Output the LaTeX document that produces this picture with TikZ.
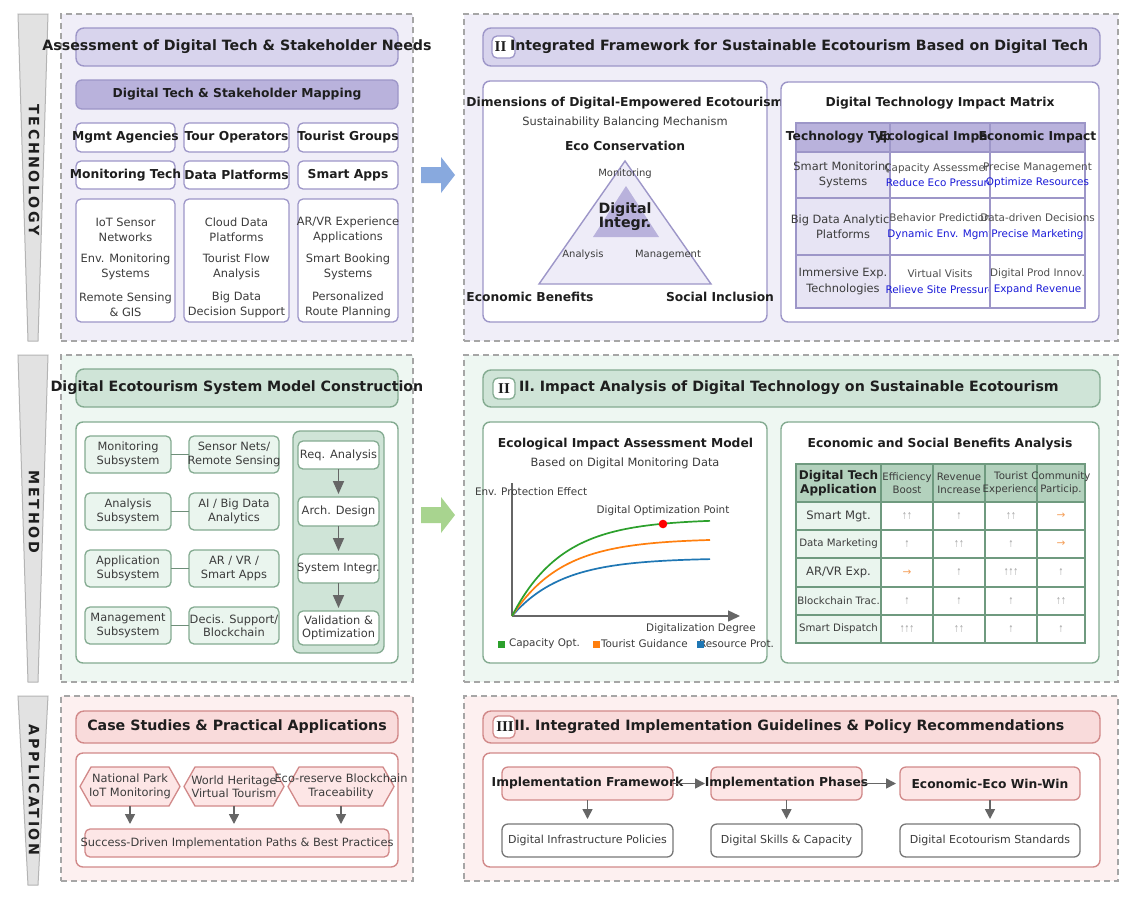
\documentclass[tikz,border=0pt]{standalone}
\usepackage{fontspec}
\usepackage{graphicx}
\setmainfont{DejaVu Sans}
\newfontfamily\serifb{Liberation Serif}
\newfontfamily\barfont[LetterSpace=18]{DejaVu Sans}
\usetikzlibrary{arrows.meta}

\definecolor{tdark}{HTML}{1E1E1E}
\definecolor{tgray}{HTML}{3C3C3C}
\definecolor{tlight}{HTML}{505050}
\definecolor{dashc}{HTML}{A6A6A6}
\definecolor{barfill}{HTML}{E2E2E2}
\definecolor{barline}{HTML}{B4B4B4}
\definecolor{lavbg}{HTML}{F0EEF8}
\definecolor{lavttl}{HTML}{D8D4ED}
\definecolor{lavdark}{HTML}{B9B2DC}
\definecolor{lavline}{HTML}{9D96C8}
\definecolor{lavlite}{HTML}{E7E4F4}
\definecolor{lavtri}{HTML}{EEECF8}
\definecolor{grnbg}{HTML}{EEF7F2}
\definecolor{grnttl}{HTML}{CFE4D7}
\definecolor{grnline}{HTML}{84AB91}
\definecolor{grnbox}{HTML}{EAF5EE}
\definecolor{grnhead}{HTML}{B3D1BD}
\definecolor{grntab}{HTML}{6F9A7F}
\definecolor{grnconn}{HTML}{6F8F7A}
\definecolor{pnkbg}{HTML}{FDF0F0}
\definecolor{pnkttl}{HTML}{F9DBDB}
\definecolor{pnkline}{HTML}{D18989}
\definecolor{pnkbox}{HTML}{FDE6E6}
\definecolor{arrgray}{HTML}{666666}
\definecolor{bluearr}{HTML}{88A9DE}
\definecolor{grnarr}{HTML}{A8D48F}
\definecolor{cgreen}{HTML}{2CA02C}
\definecolor{corange}{HTML}{FF7F0E}
\definecolor{cblue}{HTML}{1F77B4}
\definecolor{linkblue}{HTML}{1A1AD8}
\definecolor{uparr}{HTML}{ABABAB}
\definecolor{rtarr}{HTML}{F5A05A}
\definecolor{lowline}{HTML}{777777}

\newcommand\fTitle{\fontsize{14.2}{17}\selectfont\bfseries}
\newcommand\fSub{\fontsize{12.3}{14.5}\selectfont\bfseries}
\newcommand\fBody{\fontsize{11.4}{15.2}\selectfont}
\newcommand\fBodyT{\fontsize{11.4}{13.4}\selectfont}
\newcommand\fSmall{\fontsize{10.4}{15.6}\selectfont}
\newcommand\fSmallT{\fontsize{10.2}{13}\selectfont}
\newcommand\fTiny{\fontsize{10}{12}\selectfont}

\newcommand\rb[6]{\node[#1, anchor=north west, minimum width={#5-#3}, minimum height={#6-#4}] (#2) at (#3,#4) {};}
\newcommand\cell[8]{\node[#1, anchor=north west, minimum width={#5-#3}, minimum height={#6-#4}] (#2) at (#3,#4) {};\node[#7] (#2t) at (#2.center) {#8};}
\newcommand\upA{\scalebox{0.6}[1]{↑}}
\newcommand\upB{\scalebox{0.6}[1]{↑↑}}
\newcommand\upC{\scalebox{0.6}[1]{↑↑↑}}

\tikzset{
  every node/.style={inner sep=0pt, outer sep=0pt},
  panel/.style={draw=dashc, line width=1.3pt, dash pattern=on 6pt off 4pt},
  ttlbox/.style={rounded corners=8pt, line width=1.4pt},
  ibox/.style={rounded corners=7pt, line width=1.4pt, fill=white},
  sbox/.style={rounded corners=5pt, line width=1.3pt},
  ttl/.style={font=\fTitle, text=tdark},
  sub/.style={font=\fSub, text=tdark, align=center},
  body/.style={font=\fBody, text=tgray, align=center},
  bodyt/.style={font=\fBodyT, text=tgray, align=center},
  smallt/.style={font=\fSmallT, text=tgray, align=center},
  tiny/.style={font=\fTiny, text=tgray},
  badge/.style={font=\serifb\fontsize{15}{16}\selectfont\bfseries, text=tdark},
  bartxt/.style={font=\barfont\fontsize{14.2}{16}\selectfont\bfseries, text=tdark, rotate=-90},
  sidebar/.style={fill=barfill, draw=barline, line width=1pt},
  arr/.style={draw=arrgray, line width=1.6pt, -{Triangle[length=10pt,width=10pt]}},
  conn/.style={draw=grnconn, line width=1.5pt},
  mhead/.style={fill=lavdark, draw=lavline, line width=1.4pt},
  mfirst/.style={fill=lavlite, draw=lavline, line width=1.4pt},
  mwhite/.style={fill=white, draw=lavline, line width=1.4pt},
  mbody/.style={font=\fontsize{11.4}{15.5}\selectfont, text=tgray, align=center},
  msm/.style={font=\fontsize{10.4}{15.5}\selectfont, text=tlight, align=center},
  bhead/.style={fill=grnhead, draw=grntab, line width=1.6pt},
  bfirst/.style={fill=grnbox, draw=grntab, line width=1.6pt},
  bwhite/.style={fill=white, draw=grntab, line width=1.6pt},
  bhtxt/.style={font=\fontsize{12}{13.5}\selectfont\bfseries, text=tdark, align=center},
  ucell/.style={font=\fontsize{9.5}{10}\selectfont, text=uparr},
  rcell/.style={font=\fontsize{10.5}{11}\selectfont, text=rtarr},
  rowbig/.style={font=\fontsize{11.6}{13}\selectfont, text=tgray},
  rowsm/.style={font=\fontsize{10.2}{13}\selectfont, text=tgray},
  curve/.style={line width=1.7pt},
  axis/.style={draw=arrgray, line width=1.5pt},
  legend/.style={font=\fontsize{10.4}{12}\selectfont, text=tgray, anchor=west},
}

\begin{document}
\begin{tikzpicture}[x=1pt, y=-1pt]
\fill[white] (0,0) rectangle (1137,900);
\useasboundingbox (0,0) rectangle (1137,900);

% ---------------- side bars ----------------
\draw[sidebar] (18,14) -- (48,14) -- (38,341) -- (28,341) -- cycle;
\node[bartxt] (barT) at (34,170) {TECHNOLOGY};
\draw[sidebar] (18,355) -- (48,355) -- (38,682) -- (28,682) -- cycle;
\node[bartxt] (barM) at (34,512) {METHOD};
\draw[sidebar] (18,696) -- (48,696) -- (38,885) -- (28,885) -- cycle;
\node[bartxt] (barA) at (34,790) {APPLICATION};

% ---------------- panels ----------------
\rb{panel, fill=lavbg}{P1}{61}{14}{413}{341}
\rb{panel, fill=lavbg}{P2}{464}{14}{1118}{341}
\rb{panel, fill=grnbg}{P3}{61}{355}{413}{682}
\rb{panel, fill=grnbg}{P4}{464}{355}{1118}{682}
\rb{panel, fill=pnkbg}{P5}{61}{696}{413}{881}
\rb{panel, fill=pnkbg}{P6}{464}{696}{1118}{881}

% side arrows
\fill[bluearr] (421,167) -- (441,167) -- (441,157) -- (455,175) -- (441,193) -- (441,183) -- (421,183) -- cycle;
\fill[grnarr] (421,507) -- (441,507) -- (441,497) -- (455,515) -- (441,533) -- (441,523) -- (421,523) -- cycle;

% ================= TOP LEFT =================
\rb{ttlbox, fill=lavttl, draw=lavline}{T1}{76}{28}{398}{66}
\node[ttl] (T1t) at (T1.center) {Assessment of Digital Tech \& Stakeholder Needs};
\rb{sbox, rounded corners=6pt, fill=lavdark, draw=lavline}{M1}{76}{80}{398}{109}
\node[sub] (M1t) at (M1.center) {Digital Tech \& Stakeholder Mapping};
\rb{sbox, fill=white, draw=lavline}{A1}{76}{123}{175}{152}
\rb{sbox, fill=white, draw=lavline}{A2}{184}{123}{289}{152}
\rb{sbox, fill=white, draw=lavline}{A3}{298}{123}{398}{152}
\node[sub] (A1t) at (A1.center) {Mgmt Agencies};
\node[sub] (A2t) at (A2.center) {Tour Operators};
\node[sub] (A3t) at (A3.center) {Tourist Groups};
\rb{sbox, fill=white, draw=lavline}{B1}{76}{161}{175}{189}
\rb{sbox, fill=white, draw=lavline}{B2}{184}{161}{289}{189}
\rb{sbox, fill=white, draw=lavline}{B3}{298}{161}{398}{189}
\node[sub] (B1t) at (B1.center) {Monitoring Tech};
\node[sub] (B2t) at (B2.center) {Data Platforms};
\node[sub] (B3t) at (B3.center) {Smart Apps};
\rb{sbox, fill=white, draw=lavline}{C1}{76}{199}{175}{322}
\rb{sbox, fill=white, draw=lavline}{C2}{184}{199}{289}{322}
\rb{sbox, fill=white, draw=lavline}{C3}{298}{199}{398}{322}
\node[body] (C1a) at (125.5,229.5) {IoT Sensor\\Networks};
\node[body] (C1b) at (125.5,267) {Env. Monitoring\\Systems};
\node[body] (C1c) at (125.5,305) {Remote Sensing\\\& GIS};
\node[body] (C2a) at (236.5,229.5) {Cloud Data\\Platforms};
\node[body] (C2b) at (236.5,267) {Tourist Flow\\Analysis};
\node[body] (C2c) at (236.5,305) {Big Data\\Decision Support};
\node[body] (C3a) at (348,229.5) {AR/VR Experience\\Applications};
\node[body] (C3b) at (348,267) {Smart Booking\\Systems};
\node[body] (C3c) at (348,305) {Personalized\\Route Planning};

% ================= TOP RIGHT =================
\rb{ttlbox, fill=lavttl, draw=lavline}{T2}{483}{28}{1100}{66}
\rb{sbox, fill=white, draw=lavline}{G2}{492}{36}{515}{58}
\node[badge] (G2t) at (500.5,47) {II};
\node[ttl, anchor=west] (T2t) at (510,47) {Integrated Framework for Sustainable Ecotourism Based on Digital Tech};

\rb{ibox, draw=lavline}{D1}{483}{81}{767}{322}
\node[sub] (D1a) at (625,103) {Dimensions of Digital-Empowered Ecotourism};
\node[body] (D1b) at (625,122) {Sustainability Balancing Mechanism};
\node[sub] (D1c) at (625,146) {Eco Conservation};
\draw[fill=lavtri, draw=lavline, line width=1.4pt] (625,161) -- (711,284) -- (539,284) -- cycle;
\fill[lavdark] (626,186) -- (659,237) -- (593,237) -- cycle;
\node[tiny] (D1m) at (625,174) {Monitoring};
\node[font=\fontsize{14.2}{14}\selectfont\bfseries, text=tdark, align=center] (D1i) at (625,217) {Digital\\Integr.};
\node[tiny] (D1an) at (583,255) {Analysis};
\node[tiny] (D1mg) at (668,255) {Management};
\node[sub] (D1e) at (530,297) {Economic Benefits};
\node[sub] (D1s) at (720,297) {Social Inclusion};

\rb{ibox, draw=lavline}{D2}{781}{82}{1099}{322}
\node[sub] (D2a) at (940,103) {Digital Technology Impact Matrix};
\cell{mhead}{MH1}{796}{123}{890}{152}{sub}{Technology Type}
\cell{mhead}{MH2}{890}{123}{990}{152}{sub}{Ecological Impact}
\cell{mhead}{MH3}{990}{123}{1085}{152}{sub}{Economic Impact}
\cell{mfirst}{MA1}{796}{152}{890}{198}{mbody}{Smart Monitoring\\Systems}
\cell{mwhite}{MA2}{890}{152}{990}{198}{msm}{Capacity Assessment\\\textcolor{linkblue}{Reduce Eco Pressure}}
\cell{mwhite}{MA3}{990}{152}{1085}{198}{msm}{Precise Management\\\textcolor{linkblue}{Optimize Resources}}
\cell{mfirst}{MB1}{796}{198}{890}{255}{mbody}{Big Data Analytics\\Platforms}
\cell{mwhite}{MB2}{890}{198}{990}{255}{msm}{Behavior Prediction\\\textcolor{linkblue}{Dynamic Env. Mgmt}}
\cell{mwhite}{MB3}{990}{198}{1085}{255}{msm}{Data-driven Decisions\\\textcolor{linkblue}{Precise Marketing}}
\cell{mfirst}{MC1}{796}{255}{890}{308}{mbody}{Immersive Exp.\\Technologies}
\cell{mwhite}{MC2}{890}{255}{990}{308}{msm}{Virtual Visits\\\textcolor{linkblue}{Relieve Site Pressure}}
\cell{mwhite}{MC3}{990}{255}{1085}{308}{msm}{Digital Prod Innov.\\\textcolor{linkblue}{Expand Revenue}}

% ================= MIDDLE LEFT =================
\rb{ttlbox, fill=grnttl, draw=grnline}{T3}{76}{369}{398}{407}
\node[ttl] (T3t) at (T3.center) {Digital Ecotourism System Model Construction};
\rb{ibox, draw=grnline}{I3}{76}{422}{398}{663}
\rb{sbox, fill=grnbox, draw=grnline}{S1}{85}{436}{171}{473}
\rb{sbox, fill=grnbox, draw=grnline}{S2}{85}{493}{171}{530}
\rb{sbox, fill=grnbox, draw=grnline}{S3}{85}{550}{171}{587}
\rb{sbox, fill=grnbox, draw=grnline}{S4}{85}{607}{171}{644}
\rb{sbox, fill=grnbox, draw=grnline}{R1}{189}{436}{279}{473}
\rb{sbox, fill=grnbox, draw=grnline}{R2}{189}{493}{279}{530}
\rb{sbox, fill=grnbox, draw=grnline}{R3}{189}{550}{279}{587}
\rb{sbox, fill=grnbox, draw=grnline}{R4}{189}{607}{279}{644}
\draw[conn] (S1.east) -- (R1.west);
\draw[conn] (S2.east) -- (R2.west);
\draw[conn] (S3.east) -- (R3.west);
\draw[conn] (S4.east) -- (R4.west);
\node[bodyt] (S1t) at (S1.center) {Monitoring\\Subsystem};
\node[bodyt] (S2t) at (S2.center) {Analysis\\Subsystem};
\node[bodyt] (S3t) at (S3.center) {Application\\Subsystem};
\node[bodyt] (S4t) at (S4.center) {Management\\Subsystem};
\node[bodyt] (R1t) at (R1.center) {Sensor Nets/\\Remote Sensing};
\node[bodyt] (R2t) at (R2.center) {AI / Big Data\\Analytics};
\node[bodyt] (R3t) at (R3.center) {AR / VR /\\Smart Apps};
\node[bodyt] (R4t) at (R4.center) {Decis. Support/\\Blockchain};
\rb{sbox, rounded corners=7pt, fill=grnttl, draw=grnline}{K3}{293}{431}{384}{653}
\rb{sbox, fill=white, draw=grnline}{Q1}{298}{441}{379}{469}
\rb{sbox, fill=white, draw=grnline}{Q2}{298}{497}{379}{526}
\rb{sbox, fill=white, draw=grnline}{Q3}{298}{554}{379}{583}
\rb{sbox, fill=white, draw=grnline}{Q4}{298}{611}{379}{645}
\node[bodyt] (Q1t) at (Q1.center) {Req. Analysis};
\node[bodyt] (Q2t) at (Q2.center) {Arch. Design};
\node[bodyt] (Q3t) at (Q3.center) {System Integr.};
\node[bodyt] (Q4t) at (Q4.center) {Validation \&\\Optimization};
\draw[arr, -{Triangle[length=13pt,width=11pt]}, shorten >=3pt] (Q1.south) -- (Q2.north);
\draw[arr, -{Triangle[length=13pt,width=11pt]}, shorten >=3pt] (Q2.south) -- (Q3.north);
\draw[arr, -{Triangle[length=13pt,width=11pt]}, shorten >=3pt] (Q3.south) -- (Q4.north);

% ================= MIDDLE RIGHT =================
\rb{ttlbox, fill=grnttl, draw=grnline}{T4}{483}{370}{1100}{407}
\node[ttl, anchor=west] (T4t) at (519,388) {II. Impact Analysis of Digital Technology on Sustainable Ecotourism};
\rb{sbox, fill=white, draw=grnline}{G4}{493}{378}{515}{399}
\node[badge] (G4t) at (G4.center) {II};

\rb{ibox, draw=grnline}{E1}{483}{422}{767}{663}
\node[sub] (E1a) at (625.5,444) {Ecological Impact Assessment Model};
\node[body] (E1b) at (625,463) {Based on Digital Monitoring Data};
\coordinate (O) at (512,616);
\coordinate (Ytop) at (512,483);
\coordinate (Xend) at (740,616);
\draw[axis] (O) -- (Ytop);
\draw[axis, -{Triangle[length=12pt,width=11pt]}] (O) -- (Xend);
\draw[curve, cblue] plot[domain=0:198, samples=70] ({512+\x},{616-58*(1-exp(-0.02*\x))});
\draw[curve, corange] plot[domain=0:198, samples=70] ({512+\x},{616-77.5*(1-exp(-0.02*\x))});
\draw[curve, cgreen] plot[domain=0:198, samples=70] ({512+\x},{616-97*(1-exp(-0.02*\x))});
\fill[red] (663,524) circle[radius=4.3pt];
\node[legend] (E1y) at (475,492) {Env. Protection Effect};
\node[font=\fontsize{10.4}{12}\selectfont, text=tgray] (E1o) at (663,511) {Digital Optimization Point};
\node[font=\fontsize{10.4}{12}\selectfont, text=tgray] (E1x) at (701,629) {Digitalization Degree};
\fill[cgreen] (498,640.5) rectangle (505,647.5);
\node[legend] (Lg1) at (509,644) {Capacity Opt.};
\fill[corange] (593,640.5) rectangle (600,647.5);
\node[legend] (Lg2) at (601,644) {Tourist Guidance};
\node[legend] (Lg3) at (699,644) {Resource Prot.};
\fill[cblue] (697,640.5) rectangle (704,647.5);

\rb{ibox, draw=grnline}{E2}{781}{422}{1099}{663}
\node[sub] (E2a) at (940,444) {Economic and Social Benefits Analysis};
% header
\cell{bhead}{N01}{796}{464}{881}{502}{bhtxt}{Digital Tech\\Application}
\cell{bhead}{N02}{881}{464}{933}{502}{smallt}{Efficiency\\Boost}
\cell{bhead}{N03}{933}{464}{985}{502}{smallt}{Revenue\\Increase}
\cell{bhead}{N04}{985}{464}{1037}{502}{smallt}{Tourist\\Experience}
\cell{bhead}{N05}{1037}{464}{1085}{502}{smallt}{Community\\Particip.}
% row 1
\cell{bfirst}{N11}{796}{502}{881}{530}{rowbig}{Smart Mgt.}
\cell{bwhite}{N12}{881}{502}{933}{530}{ucell}{\upB}
\cell{bwhite}{N13}{933}{502}{985}{530}{ucell}{\upA}
\cell{bwhite}{N14}{985}{502}{1037}{530}{ucell}{\upB}
\cell{bwhite}{N15}{1037}{502}{1085}{530}{rcell}{→}
% row 2
\cell{bfirst}{N21}{796}{530}{881}{558}{rowsm}{Data Marketing}
\cell{bwhite}{N22}{881}{530}{933}{558}{ucell}{\upA}
\cell{bwhite}{N23}{933}{530}{985}{558}{ucell}{\upB}
\cell{bwhite}{N24}{985}{530}{1037}{558}{ucell}{\upA}
\cell{bwhite}{N25}{1037}{530}{1085}{558}{rcell}{→}
% row 3
\cell{bfirst}{N31}{796}{558}{881}{587}{rowbig}{AR/VR Exp.}
\cell{bwhite}{N32}{881}{558}{933}{587}{rcell}{→}
\cell{bwhite}{N33}{933}{558}{985}{587}{ucell}{\upA}
\cell{bwhite}{N34}{985}{558}{1037}{587}{ucell}{\upC}
\cell{bwhite}{N35}{1037}{558}{1085}{587}{ucell}{\upA}
% row 4
\cell{bfirst}{N41}{796}{587}{881}{615}{rowsm}{Blockchain Trac.}
\cell{bwhite}{N42}{881}{587}{933}{615}{ucell}{\upA}
\cell{bwhite}{N43}{933}{587}{985}{615}{ucell}{\upA}
\cell{bwhite}{N44}{985}{587}{1037}{615}{ucell}{\upA}
\cell{bwhite}{N45}{1037}{587}{1085}{615}{ucell}{\upB}
% row 5
\cell{bfirst}{N51}{796}{615}{881}{643}{rowsm}{Smart Dispatch}
\cell{bwhite}{N52}{881}{615}{933}{643}{ucell}{\upC}
\cell{bwhite}{N53}{933}{615}{985}{643}{ucell}{\upB}
\cell{bwhite}{N54}{985}{615}{1037}{643}{ucell}{\upA}
\cell{bwhite}{N55}{1037}{615}{1085}{643}{ucell}{\upA}

% ================= BOTTOM LEFT =================
\rb{ttlbox, fill=pnkttl, draw=pnkline}{T5}{76}{711}{398}{743}
\node[ttl] (T5t) at (T5.center) {Case Studies \& Practical Applications};
\rb{ibox, draw=pnkline}{I5}{76}{753}{398}{867}
\rb{}{H1}{80}{767}{180}{806}
\rb{}{H2}{184}{767}{284}{806}
\rb{}{H3}{288}{767}{394}{806}
\foreach \h in {H1,H2,H3}{
  \draw[fill=pnkbox, draw=pnkline, line width=1.3pt] (\h.west) -- ([xshift=11pt]\h.north west) -- ([xshift=-11pt]\h.north east) -- (\h.east) -- ([xshift=-11pt]\h.south east) -- ([xshift=11pt]\h.south west) -- cycle;
}
\node[bodyt] (H1t) at (H1.center) {National Park\\IoT Monitoring};
\node[bodyt] (H2t) at (H2.center) {World Heritage\\Virtual Tourism};
\node[bodyt] (H3t) at (H3.center) {Eco-reserve Blockchain\\Traceability};
\rb{sbox, fill=pnkbox, draw=pnkline}{SB}{85}{829}{389}{857}
\node[body] (SBt) at (SB.center) {Success-Driven Implementation Paths \& Best Practices};
\draw[arr, shorten >=5pt] (H1.south) -- (H1.south |- SB.north);
\draw[arr, shorten >=5pt] (H2.south) -- (H2.south |- SB.north);
\draw[arr, shorten >=5pt] (H3.south) -- (H3.south |- SB.north);

% ================= BOTTOM RIGHT =================
\rb{ttlbox, fill=pnkttl, draw=pnkline}{T6}{483}{711}{1100}{743}
\node[ttl, anchor=west] (T6t) at (509,727) {III. Integrated Implementation Guidelines \& Policy Recommendations};
\rb{sbox, fill=white, draw=pnkline}{G6}{493}{716}{515}{738}
\node[badge] (G6t) at (505,727) {III};
\rb{ibox, draw=pnkline}{I6}{483}{753}{1100}{867}
\rb{sbox, rounded corners=6pt, fill=pnkbox, draw=pnkline}{F1}{502}{767}{673}{800}
\rb{sbox, rounded corners=6pt, fill=pnkbox, draw=pnkline}{F2}{711}{767}{862}{800}
\rb{sbox, rounded corners=6pt, fill=pnkbox, draw=pnkline}{F3}{900}{767}{1080}{800}
\node[sub] (F1t) at (F1.center) {Implementation Framework};
\node[sub] (F2t) at (F2.center) {Implementation Phases};
\node[sub] (F3t) at (F3.center) {Economic-Eco Win-Win};
\rb{sbox, rounded corners=6pt, fill=white, draw=lowline}{L1}{502}{824}{673}{857}
\rb{sbox, rounded corners=6pt, fill=white, draw=lowline}{L2}{711}{824}{862}{857}
\rb{sbox, rounded corners=6pt, fill=white, draw=lowline}{L3}{900}{824}{1080}{857}
\node[font=\fontsize{11}{13}\selectfont, text=tgray] (L1t) at (L1.center) {Digital Infrastructure Policies};
\node[font=\fontsize{11}{13}\selectfont, text=tgray] (L2t) at (L2.center) {Digital Skills \& Capacity};
\node[font=\fontsize{11}{13}\selectfont, text=tgray] (L3t) at (L3.center) {Digital Ecotourism Standards};
\draw[arr, shorten >=6pt] (F1.east) -- (F2.west);
\draw[arr, shorten >=4pt] (F2.east) -- (F3.west);
\draw[arr, shorten >=5pt] (F1.south) -- (L1.north);
\draw[arr, shorten >=5pt] (F2.south) -- (L2.north);
\draw[arr, shorten >=5pt] (F3.south) -- (L3.north);

\end{tikzpicture}
\end{document}
